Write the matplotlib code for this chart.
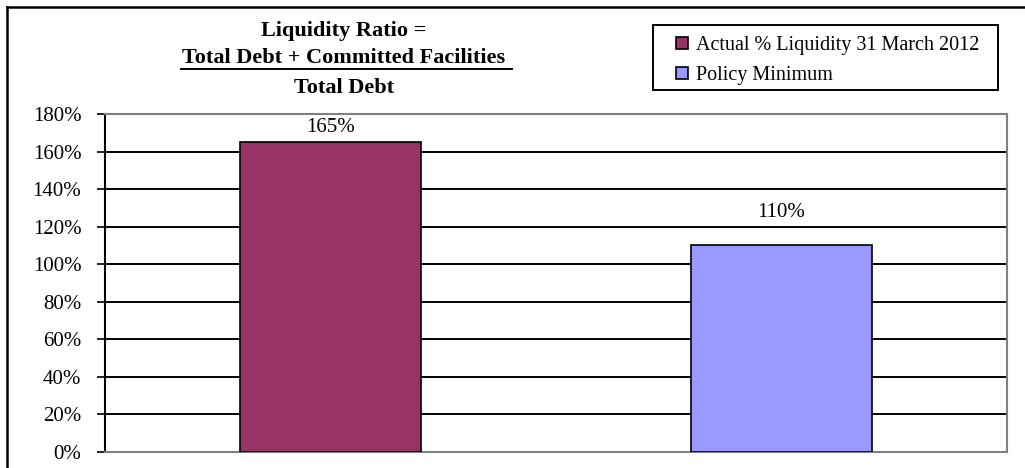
import matplotlib.pyplot as plt
from matplotlib.lines import Line2D
from matplotlib.patches import Rectangle
from matplotlib.ticker import FuncFormatter

# data
series = ["Actual % Liquidity 31 March 2012", "Policy Minimum"]
values = [165, 110]
colors = ["#993366", "#9999FF"]
yticks = [0, 20, 40, 60, 80, 100, 120, 140, 160, 180]

plt.rcParams['font.family'] = ['Liberation Serif', 'DejaVu Serif']

W, H = 1025, 468
fig = plt.figure(figsize=(W / 100, H / 100), dpi=100)
ax = fig.add_axes([105 / W, (H - 452) / H, 902 / W, 338 / H])

# outer chart border (clipped on right/bottom like the reference)
fig.add_artist(Line2D([7 / W, 7 / W], [0, 1 - 7 / H], color="black", lw=1.8))
fig.add_artist(Line2D([7 / W, 1], [1 - 7 / H, 1 - 7 / H], color="black", lw=1.8))

# label lift above bar top, in points (reference labels sit unevenly)
lifts = [4, 17]
for i, (name, v, c) in enumerate(zip(series, values, colors)):
    ax.bar(i, v, width=0.4, color=c, edgecolor="black", linewidth=1.2, label=name, zorder=3)
    ax.annotate(f"{v}%", (i, v), xytext=(0, lifts[i]), textcoords="offset points",
                ha="center", va="bottom", fontsize=15)

ax.set_xlim(-0.5, 1.5)
ax.set_ylim(0, 180)
ax.set_yticks(yticks)
ax.yaxis.set_major_formatter(FuncFormatter(lambda v, p: f"{v:.0f}%"))
ax.set_xticks([])
ax.tick_params(axis="y", labelsize=15, length=6, width=1.2, pad=11, direction="out", color="black")
ax.grid(axis="y", color="black", lw=1.4, zorder=0)
for s in ["top", "right", "bottom"]:
    ax.spines[s].set_color("#808080")
    ax.spines[s].set_linewidth(1.5)
ax.spines["left"].set_color("black")
ax.spines["left"].set_linewidth(1.5)

# title block
tx = 344 / W
fig.text(tx, 1 - 31 / H, "Liquidity Ratio =", ha="center", va="center", fontsize=16, fontweight="bold")
fig.text(tx, 1 - 58 / H, "Total Debt + Committed Facilities", ha="center", va="center", fontsize=16, fontweight="bold")
fig.add_artist(Line2D([181 / W, 512 / W], [1 - 69 / H, 1 - 69 / H], color="black", lw=1.4))
fig.text(tx, 1 - 88 / H, "Total Debt", ha="center", va="center", fontsize=16, fontweight="bold")

# legend box drawn separately so its padding matches the reference
fig.add_artist(Rectangle((653 / W, 1 - 90 / H), 345 / W, 65 / H, transform=fig.transFigure,
                         fill=False, edgecolor="black", lw=1.4))
leg = fig.legend(loc="upper left", bbox_to_anchor=(667 / W, 1 - 27 / H), fontsize=14.5,
                 frameon=False, handlelength=0.6, handleheight=0.6, handletextpad=0.4,
                 borderpad=0.45, labelspacing=0.55, borderaxespad=0)

fig.savefig("out.png", dpi=100)
